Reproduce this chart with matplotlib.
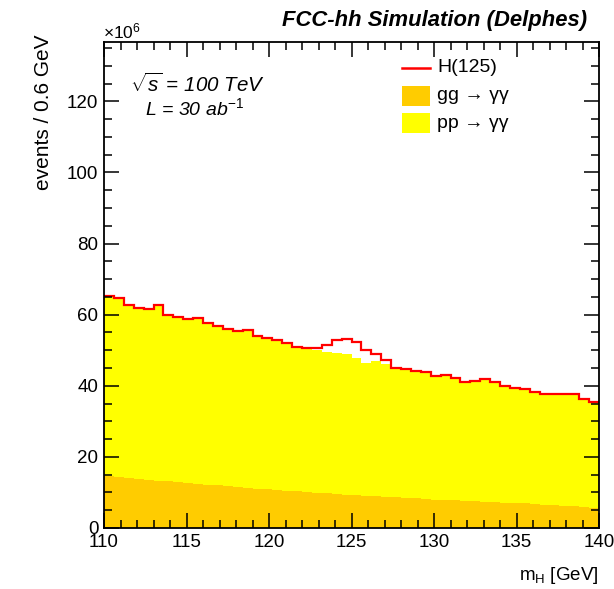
import numpy as np
import matplotlib
matplotlib.use('Agg')
import matplotlib.pyplot as plt
from matplotlib.patches import Rectangle
from matplotlib.lines import Line2D
from matplotlib.ticker import MultipleLocator

plt.rcParams['font.family'] = ['Liberation Sans', 'DejaVu Sans']
plt.rcParams['mathtext.fontset'] = 'custom'
plt.rcParams['mathtext.rm'] = 'Liberation Sans'
plt.rcParams['mathtext.it'] = 'Liberation Sans:italic'
plt.rcParams['mathtext.bf'] = 'Liberation Sans:bold'

# diphoton invariant mass, 50 bins of 0.6 GeV, events in units of 10^6
m_lo, m_hi, n_bins = 110.0, 140.0, 50

gg_yy = [14.6, 14.4, 14.1, 13.9, 13.6, 13.3, 13.1, 12.8, 12.6, 12.4,
         12.2, 12.0, 11.7, 11.5, 11.3, 11.1, 10.9, 10.7, 10.5, 10.3,
         10.1, 9.9, 9.8, 9.6, 9.4, 9.3, 9.1, 9.0, 8.8, 8.7,
         8.5, 8.4, 8.2, 8.0, 7.9, 7.8, 7.6, 7.5, 7.4, 7.2,
         7.1, 7.0, 6.9, 6.8, 6.6, 6.5, 6.3, 6.1, 5.9, 5.6]

pp_yy = [50.6, 50.4, 48.5, 48.1, 48.1, 49.5, 46.9, 46.5, 46.1, 46.6,
         45.4, 44.7, 44.3, 43.8, 44.5, 42.9, 42.5, 42.3, 41.4, 40.6,
         40.4, 40.3, 39.6, 39.6, 39.5, 38.5, 37.4, 37.9, 37.4, 36.2,
         36.1, 35.8, 35.7, 34.7, 35.0, 34.5, 33.6, 33.8, 34.6, 33.8,
         32.8, 32.5, 32.3, 31.4, 31.2, 31.1, 31.5, 31.7, 30.4, 29.8]

h125 = [0.0, 0.0, 0.0, 0.0, 0.0, 0.0, 0.0, 0.0, 0.0, 0.0,
        0.0, 0.0, 0.0, 0.0, 0.0, 0.0, 0.0, 0.0, 0.0, 0.0,
        0.2, 0.4, 2.0, 3.6, 4.4, 4.5, 3.5, 2.0, 1.0, 0.2,
        0.0, 0.0, 0.0, 0.0, 0.0, 0.0, 0.0, 0.0, 0.0, 0.0,
        0.0, 0.0, 0.0, 0.0, 0.0, 0.0, 0.0, 0.0, 0.0, 0.0]

legend_labels = ['H(125)', 'gg \u2192 \u03b3\u03b3', 'pp \u2192 \u03b3\u03b3']

c_gg = '#ffcc00'
c_pp = '#ffff00'
c_h = '#ff0000'

edges = np.linspace(m_lo, m_hi, n_bins + 1)
gg = np.array(gg_yy)
bkg = gg + np.array(pp_yy)
tot = bkg + np.array(h125)

fig = plt.figure(figsize=(6.14, 5.89), dpi=100)
W, H = 614, 589
ax = fig.add_axes([104 / W, 1 - 528 / H, 495 / W, 486 / H])

# stacked histograms
ax.stairs(gg, edges, baseline=0, fill=True, color=c_gg, lw=0)
ax.stairs(bkg, edges, baseline=gg, fill=True, color=c_pp, lw=0)
ax.stairs(tot, edges, baseline=None, color=c_h, lw=1.6)

ax.set_xlim(m_lo, m_hi)
ax.set_ylim(0, 136.7)

ax.xaxis.set_major_locator(MultipleLocator(5))
ax.xaxis.set_minor_locator(MultipleLocator(1))
ax.yaxis.set_major_locator(MultipleLocator(20))
ax.yaxis.set_minor_locator(MultipleLocator(5))
ax.tick_params(which='both', direction='in', top=True, right=True,
               width=1.1, labelsize=13.5, colors='black')
ax.tick_params(which='major', length=10.5)
ax.tick_params(which='minor', length=5.5)
ax.tick_params(axis='x', which='major', pad=4)
ax.tick_params(axis='y', which='major', pad=4)
for s in ax.spines.values():
    s.set_linewidth(1.3)

# axis titles and annotations
fig.text(599 / W, 1 - 580 / H, r'm$_{\mathregular{H}}$ [GeV]',
         ha='right', va='baseline', fontsize=13.5)
fig.text(44 / W, 1 - 34 / H, 'events / 0.6 GeV', rotation=90,
         ha='center', va='top', fontsize=15)
fig.text(103 / W, 1 - 38 / H, r'$\mathregular{\times 10^{6}}$',
         ha='left', va='baseline', fontsize=12.5)
fig.text(587 / W, 1 - 26 / H, 'FCC-hh Simulation (Delphes)',
         ha='right', va='baseline', fontsize=15.8, weight='bold', style='italic')
fig.text(130 / W, 1 - 92 / H, r'$\sqrt{s}$ = 100 TeV',
         ha='left', va='baseline', fontsize=14.8, style='italic')
fig.text(145 / W, 1 - 115 / H, r'L = 30 ab$^{-1}$',
         ha='left', va='baseline', fontsize=14, style='italic')

# legend
def fx(px):
    return px / W


def fy(py):
    return 1 - py / H


fig.add_artist(Line2D([fx(402), fx(430)], [fy(68), fy(68)], color=c_h, lw=1.8))
fig.add_artist(Rectangle((fx(402), fy(106)), 28 / W, 20 / H, color=c_gg, lw=0))
fig.add_artist(Rectangle((fx(402), fy(133)), 28 / W, 20 / H, color=c_pp, lw=0))
for lab, py in zip(legend_labels, [68, 96, 123]):
    fig.text(fx(437), fy(py), lab, ha='left', va='center', fontsize=14)

fig.savefig('out.png', dpi=100)
